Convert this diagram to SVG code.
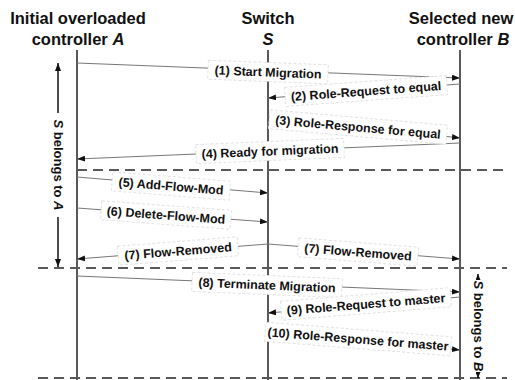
<svg xmlns="http://www.w3.org/2000/svg" width="515" height="380" viewBox="0 0 515 380">
<defs>
<marker id="ah" viewBox="0 0 8 6" refX="8" refY="3" markerWidth="8" markerHeight="6" markerUnits="userSpaceOnUse" orient="auto">
<path d="M0,0 L8,3 L0,6 z" fill="#111"/>
</marker>
<marker id="ahs" viewBox="0 0 6 5" refX="6" refY="2.5" markerWidth="6" markerHeight="5" markerUnits="userSpaceOnUse" orient="auto">
<path d="M0,0 L6,2.5 L0,5 z" fill="#111"/>
</marker>
</defs>
<style>
.title{font-family:"Liberation Sans",Arial,sans-serif;font-weight:bold;font-size:16.5px;fill:#111;text-anchor:middle}
.life{stroke:#595959;stroke-width:2;fill:none}
.dash{stroke:#595959;stroke-width:2;stroke-dasharray:10,6;fill:none}
.msg{stroke:#777;stroke-width:1;fill:none;marker-end:url(#ah)}
.lbl rect{fill:#fff;stroke:#e2e2e2;stroke-width:1;stroke-dasharray:3,2}
.lbl text{font-family:"Liberation Sans",Arial,sans-serif;font-weight:bold;font-size:12.5px;fill:#111;text-anchor:middle}
.side{stroke:#111;stroke-width:1.5;fill:none}
.sidet{font-family:"Liberation Sans",Arial,sans-serif;font-weight:bold;font-size:13px;fill:#111;text-anchor:middle}
</style>
<rect width="515" height="380" fill="#fff"/>

<g id="controllerA">
<text class="title" x="78" y="24">Initial overloaded</text>
<text class="title" x="78" y="45">controller <tspan font-style="italic">A</tspan></text>
<line class="life" x1="77" y1="50" x2="77" y2="380"/>
</g>
<g id="switchS">
<text class="title" x="268" y="24">Switch</text>
<text class="title" x="268" y="45" font-style="italic">S</text>
<line class="life" x1="268" y1="50" x2="268" y2="380"/>
</g>
<g id="controllerB">
<text class="title" x="461" y="24">Selected new</text>
<text class="title" x="463" y="45">controller <tspan font-style="italic">B</tspan></text>
<line class="life" x1="460" y1="50" x2="460" y2="380"/>
</g>

<g id="phases">
<line class="dash" x1="77" y1="170" x2="507" y2="170"/>
<line class="dash" x1="38" y1="268" x2="507" y2="268"/>
<line class="dash" x1="38" y1="378" x2="507" y2="378"/>
</g>

<g id="sideA">
<line class="side" x1="58" y1="113" x2="58" y2="63" marker-end="url(#ah)"/>
<line class="side" x1="58" y1="217" x2="58" y2="267" marker-end="url(#ah)"/>
<text class="sidet" transform="translate(58,165) rotate(90)" y="4.5"><tspan font-style="italic">S</tspan> belongs to <tspan font-style="italic">A</tspan></text>
</g>
<g id="sideB">
<line class="side" x1="478" y1="280" x2="478" y2="274" marker-end="url(#ahs)"/>
<line class="side" x1="478" y1="372" x2="478" y2="378" marker-end="url(#ahs)"/>
<text class="sidet" transform="translate(478,326) rotate(90)" y="4.5"><tspan font-style="italic">S</tspan> belongs to <tspan font-style="italic">B</tspan></text>
</g>

<g id="connectors">
<line class="msg" x1="77" y1="63" x2="460" y2="78"/>
<line class="msg" x1="460" y1="84" x2="268" y2="98"/>
<line class="msg" x1="268" y1="116" x2="460" y2="138"/>
<line class="msg" x1="460" y1="143" x2="77" y2="159"/>
<line class="msg" x1="77" y1="177" x2="268" y2="193"/>
<line class="msg" x1="77" y1="208" x2="268" y2="222"/>
<line class="msg" x1="268" y1="244" x2="77" y2="259"/>
<line class="msg" x1="268" y1="244" x2="460" y2="259"/>
<line class="msg" x1="77" y1="276" x2="460" y2="292"/>
<line class="msg" x1="460" y1="297" x2="268" y2="313"/>
<line class="msg" x1="268" y1="330" x2="460" y2="350"/>

<g class="lbl" transform="translate(268,72) rotate(2.2)"><rect x="-60" y="-9.5" width="120" height="19"/><text y="4.5">(1) Start Migration</text></g>
<g class="lbl" transform="translate(366,91) rotate(-4.2)"><rect x="-81" y="-9.5" width="162" height="19"/><text y="4.5">(2) Role-Request to equal</text></g>
<g class="lbl" transform="translate(358,127) rotate(5)"><rect x="-89" y="-9.5" width="178" height="19"/><text y="4.5">(3) Role-Response for equal</text></g>
<g class="lbl" transform="translate(270,151) rotate(-2.4)"><rect x="-74" y="-9.5" width="148" height="19"/><text y="4.5">(4) Ready for migration</text></g>
<g class="lbl" transform="translate(171,186) rotate(4.6)"><rect x="-59" y="-9.5" width="118" height="19"/><text y="4.5">(5) Add-Flow-Mod</text></g>
<g class="lbl" transform="translate(166,215) rotate(4.2)"><rect x="-65" y="-9.5" width="130" height="19"/><text y="4.5">(6) Delete-Flow-Mod</text></g>
<g class="lbl" transform="translate(178,251) rotate(-4.5)"><rect x="-60" y="-9.5" width="120" height="19"/><text y="4.5">(7) Flow-Removed</text></g>
<g class="lbl" transform="translate(358,252) rotate(4.5)"><rect x="-60" y="-9.5" width="120" height="19"/><text y="4.5">(7) Flow-Removed</text></g>
<g class="lbl" transform="translate(267,285) rotate(2.4)"><rect x="-75" y="-9.5" width="150" height="19"/><text y="4.5">(8) Terminate Migration</text></g>
<g class="lbl" transform="translate(366,304) rotate(-4.6)"><rect x="-85" y="-9.5" width="170" height="19"/><text y="4.5">(9) Role-Request to master</text></g>
<g class="lbl" transform="translate(358,339) rotate(4.5)"><rect x="-93" y="-9.5" width="186" height="19"/><text y="4.5">(10) Role-Response for master</text></g>
</g>
</svg>
